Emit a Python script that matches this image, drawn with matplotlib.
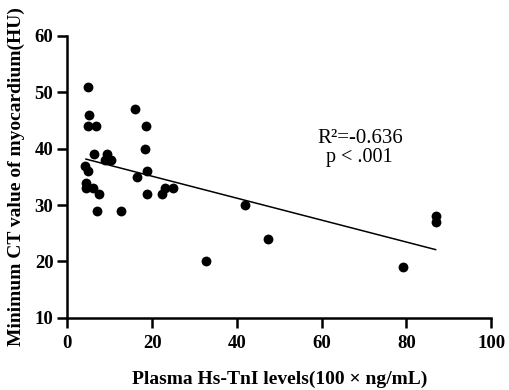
"""Scatter of minimum CT value vs plasma Hs-TnI with linear fit"""

import numpy as np
import matplotlib
matplotlib.use("Agg")
import matplotlib.pyplot as plt

plt.rcParams['font.family'] = ['Liberation Serif', 'DejaVu Serif']

tni = [4.8, 5.2, 4.9, 6.8, 6.3, 9.3, 8.8, 10.2, 4.2, 4.9, 4.4, 4.4, 6.1, 7.5,
       7.1, 12.6, 16.0, 18.6, 18.4, 16.4, 18.7, 18.8, 22.3, 23.1, 25.0, 42.0,
       32.7, 47.4, 79.2, 86.9, 86.9]
ct_min = [51, 46, 44, 44, 39, 39, 38, 38, 37, 36, 34, 33, 33, 32,
          29, 29, 47, 44, 40, 35, 36, 32, 32, 33, 33, 30,
          20, 24, 19, 28, 27]

# fitted line as drawn in the figure (start / end)
fit_x = [4.4, 86.9]
fit_y = [38.15, 22.1]

fig = plt.figure(figsize=(5.1, 3.9), dpi=100)
ax = fig.add_axes([0.132, 0.185, 0.831, 0.723])

ax.scatter(tni, ct_min, s=50, color='black', zorder=3, linewidths=0)
ax.plot(fit_x, fit_y, color='black', linewidth=1.1)

ax.set_xlim(0, 100)
ax.set_ylim(10, 60)
ax.set_xticks(range(0, 101, 20))
ax.set_yticks(range(10, 61, 10))
for side in ['top', 'right']:
    ax.spines[side].set_visible(False)
for side in ['left', 'bottom']:
    ax.spines[side].set_linewidth(1.8)
ax.tick_params(width=1.8, length=7, labelsize=13.5)
ax.tick_params(axis='x', pad=5)
ax.tick_params(axis='y', pad=3)
for lab in ax.get_xticklabels() + ax.get_yticklabels():
    lab.set_fontweight('bold')

ax.set_xlabel('Plasma Hs-TnI levels(100 × ng/mL)', fontsize=14,
              fontweight='bold', labelpad=14)
ax.set_ylabel('Minimum CT value of myocardium(HU)', fontsize=14,
              fontweight='bold', labelpad=7)

ax.text(59, 41.0, 'R²=-0.636', fontsize=15)
ax.text(61.1, 37.6, 'p < .001', fontsize=14.5)

fig.savefig('out.png', dpi=100)
